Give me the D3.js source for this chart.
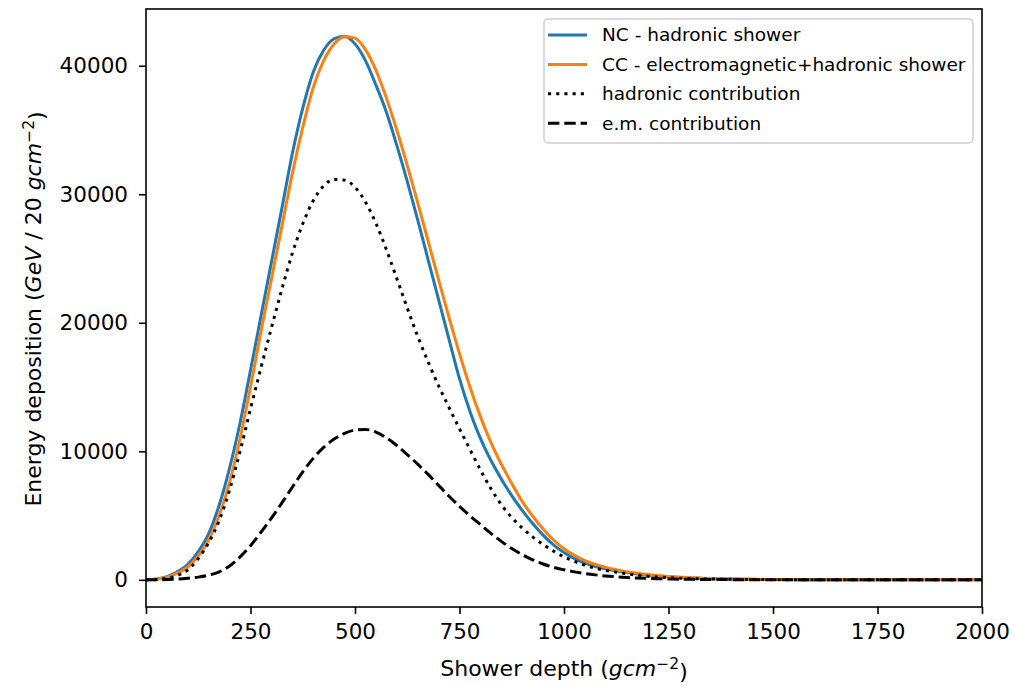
<!DOCTYPE html>
<html>
<head>
<meta charset="utf-8">
<script src="https://cdn.jsdelivr.net/npm/d3@7"></script>
<style>
  body { margin: 0; background: #fff; }
  svg { font-family: "DejaVu Sans", sans-serif; }
</style>
</head>
<body>
<div id="chart"></div>
<script>
// shower depth grid (g cm^-2)
const depth = [
  0, 25, 50, 75, 100, 125, 150, 175, 200, 225, 250, 275, 300, 325, 350, 375, 400, 425, 450, 475,
  500, 525, 550, 575, 600, 625, 650, 675, 700, 725, 750, 775, 800, 825, 850, 875, 900, 925, 950, 975,
  1000, 1025, 1050, 1075, 1100, 1125, 1150, 1175, 1200, 1225, 1250, 1275, 1300, 1325, 1350, 1375,
  1400, 1425, 1450, 1475, 1500, 1525, 1550, 1575, 1600, 1625, 1650, 1675, 1700, 1725, 1750, 1775,
  1800, 1825, 1850, 1875, 1900, 1925, 1950, 1975, 2000
];

// NC - hadronic shower
const ncShower = [
  0, 60, 250, 620, 1200, 2200, 3600, 5800, 8700, 12200, 16300, 20500, 24700, 28900, 33150, 36700, 39500, 41200, 42100, 42300,
  41700, 40400, 38500, 36400, 33800, 31000, 28000, 24900, 21800, 18700, 15650, 13100, 11000, 9300, 7850, 6550, 5400, 4380, 3480, 2720,
  2120, 1650, 1300, 1040, 850, 690, 560, 455, 375, 300, 240, 190, 150, 120, 95, 75,
  60, 48, 38, 30, 24, 19, 15, 12, 10, 8, 6, 5, 4, 3, 3, 2,
  2, 2, 1, 1, 1, 1, 1, 0, 0
];

// CC - electromagnetic+hadronic shower
const ccShower = [
  0, 45, 200, 520, 1000, 1850, 3100, 5000, 7600, 11000, 15000, 19300, 23400, 27500, 31600, 35200, 38300, 40400, 41700, 42250,
  42150, 41250, 39650, 37500, 35000, 32250, 29350, 26350, 23350, 20400, 17600, 15000, 12700, 10700, 9000, 7500, 6100, 4950, 3950, 3100,
  2420, 1900, 1500, 1200, 970, 780, 630, 510, 415, 330, 265, 212, 170, 136, 108, 86,
  68, 54, 43, 34, 27, 21, 17, 13, 11, 9, 7, 6, 5, 4, 3, 3,
  2, 2, 2, 1, 1, 1, 1, 1, 0
];

// hadronic contribution
const hadronic = [
  0, 20, 120, 330, 780, 1650, 2900, 4600, 7000, 10000, 13300, 16500, 19600, 22600, 25400, 27700, 29500, 30650, 31150, 31100,
  30550, 29400, 27750, 25700, 23450, 21150, 18950, 16950, 15100, 13400, 11750, 10150, 8550, 7100, 5850, 4850, 4030, 3340, 2750, 2230,
  1790, 1430, 1140, 910, 730, 590, 470, 365, 280, 215, 165, 125, 95, 75, 60, 47,
  37, 29, 23, 18, 14, 11, 9, 7, 6, 5, 4, 3, 3, 2, 2, 2,
  1, 1, 1, 1, 1, 0, 0, 0, 0
];

// e.m. contribution
const emShower = [
  0, 5, 20, 55, 120, 210, 360, 620, 1080, 1780, 2650, 3700, 4800, 5980, 7200, 8400, 9450, 10300, 10950, 11400,
  11650, 11700, 11500, 11050, 10450, 9750, 9000, 8200, 7350, 6500, 5720, 4980, 4300, 3620, 2990, 2430, 1960, 1560, 1230, 970,
  780, 620, 490, 385, 300, 235, 180, 140, 110, 85, 65, 50, 40, 31, 24, 19,
  15, 12, 9, 7, 6, 5, 4, 3, 3, 2, 2, 1, 1, 1, 1, 1,
  1, 0, 0, 0, 0, 0, 0, 0, 0
];

const xTicks = [0, 250, 500, 750, 1000, 1250, 1500, 1750, 2000];
const yTicks = [0, 10000, 20000, 30000, 40000];

const seriesNames = [
  'NC - hadronic shower',
  'CC - electromagnetic+hadronic shower',
  'hadronic contribution',
  'e.m. contribution'
];

const width = 1014, height = 685;
const margin = { l: 146, r: 32, t: 9, b: 78 };

const series = [
  { name: seriesNames[0], values: ncShower, color: '#1f77b4', dash: null },
  { name: seriesNames[1], values: ccShower, color: '#ff7f0e', dash: null },
  { name: seriesNames[2], values: hadronic, color: '#000', dash: '3.1,5.1' },
  { name: seriesNames[3], values: emShower, color: '#000', dash: '11.4,4.9' }
];

const svg = d3.select('#chart')
  .append('svg')
  .attr('width', width)
  .attr('height', height);

const scaleX = d3.scaleLinear()
  .domain([0, 2000])
  .range([margin.l, width - margin.r]);

const yMax = d3.max(series, s => d3.max(s.values));
const scaleY = d3.scaleLinear()
  .domain([-0.05 * yMax, 1.05 * yMax])
  .range([height - margin.b, margin.t]);

svg.append('defs')
  .append('clipPath')
  .attr('id', 'plot-clip')
  .append('rect')
  .attr('x', margin.l)
  .attr('y', margin.t)
  .attr('width', width - margin.l - margin.r)
  .attr('height', height - margin.t - margin.b);

// lines
const line = d3.line()
  .x((d, i) => scaleX(depth[i]))
  .y(d => scaleY(d))
  .curve(d3.curveMonotoneX);

svg.append('g')
  .attr('class', 'lines')
  .attr('clip-path', 'url(#plot-clip)')
  .selectAll('path')
  .data(series)
  .join('path')
  .attr('d', d => line(d.values))
  .attr('fill', 'none')
  .attr('stroke', d => d.color)
  .attr('stroke-width', 3)
  .attr('stroke-dasharray', d => d.dash)
  .attr('stroke-linecap', d => d.dash ? 'butt' : 'square')
  .attr('stroke-linejoin', 'round');

// axes
const axisX = d3.axisBottom(scaleX)
  .tickValues(xTicks)
  .tickSize(7)
  .tickPadding(10)
  .tickFormat(d3.format('d'));

const axisY = d3.axisLeft(scaleY)
  .tickValues(yTicks)
  .tickSize(7)
  .tickPadding(11)
  .tickFormat(d3.format('d'));

const gx = svg.append('g')
  .attr('class', 'axis axis-x')
  .attr('transform', `translate(0, ${height - margin.b})`)
  .call(axisX);

const gy = svg.append('g')
  .attr('class', 'axis axis-y')
  .attr('transform', `translate(${margin.l}, 0)`)
  .call(axisY);

[gx, gy].forEach(g => {
  g.select('.domain').remove();
  g.selectAll('.tick line').attr('stroke', '#000').attr('stroke-width', 1.6);
  g.selectAll('.tick text')
    .attr('fill', '#000')
    .style('font-size', '21.5px')
    .style('font-family', '"DejaVu Sans", sans-serif');
});

// frame
svg.append('rect')
  .attr('x', margin.l)
  .attr('y', margin.t)
  .attr('width', width - margin.l - margin.r)
  .attr('height', height - margin.t - margin.b)
  .attr('fill', 'none')
  .attr('stroke', '#000')
  .attr('stroke-width', 1.6);

// axis labels
const xLabel = svg.append('text')
  .attr('x', (margin.l + width - margin.r) / 2)
  .attr('y', 676)
  .attr('text-anchor', 'middle')
  .style('font-size', '22px')
  .attr('fill', '#000');
xLabel.append('tspan').text('Shower depth (');
xLabel.append('tspan').style('font-style', 'italic').text('gcm');
xLabel.append('tspan').attr('dy', '-0.45em').style('font-size', '15.5px').text('\u22122');
xLabel.append('tspan').attr('dy', '0.45em').text(')');

const yLabel = svg.append('text')
  .attr('transform', `translate(41, ${(margin.t + height - margin.b) / 2 + 1}) rotate(-90)`)
  .attr('text-anchor', 'middle')
  .style('font-size', '22px')
  .attr('fill', '#000');
yLabel.append('tspan').text('Energy deposition (');
yLabel.append('tspan').style('font-style', 'italic').text('GeV');
yLabel.append('tspan').text(' / 20 ');
yLabel.append('tspan').style('font-style', 'italic').text('gcm');
yLabel.append('tspan').attr('dy', '-0.45em').style('font-size', '15.5px').text('\u22122');
yLabel.append('tspan').attr('dy', '0.45em').text(')');

// legend
const legend = svg.append('g')
  .attr('class', 'legend')
  .attr('transform', 'translate(544, 19)');

legend.append('rect')
  .attr('width', 429)
  .attr('height', 124)
  .attr('rx', 4)
  .attr('fill', '#fff')
  .attr('fill-opacity', 0.8)
  .attr('stroke', '#ccc')
  .attr('stroke-width', 1.4);

const legendRow = legend.selectAll('.row')
  .data(series)
  .join('g')
  .attr('class', 'row')
  .attr('transform', (d, i) => `translate(0, ${16 + i * 29.4})`);

legendRow.append('line')
  .attr('x1', 4)
  .attr('x2', 43)
  .attr('stroke', d => d.color)
  .attr('stroke-width', 3)
  .attr('stroke-dasharray', d => d.dash);

legendRow.append('text')
  .attr('x', 58)
  .attr('dy', '0.35em')
  .style('font-size', '18.5px')
  .attr('fill', '#000')
  .text(d => d.name);
</script>
</body>
</html>
